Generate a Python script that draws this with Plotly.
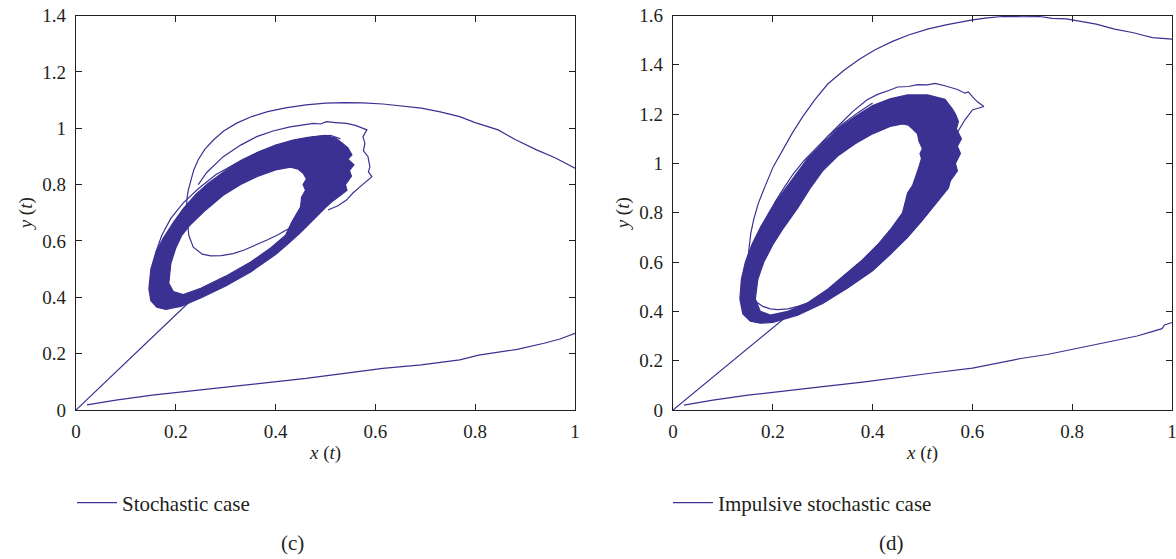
import plotly.graph_objects as go

COLOR = "#3a3192"
FONT = "Liberation Serif"
TXT = "#231f20"

# ---------------- (c) Stochastic case ----------------
c_low_x = [0.022, 0.08, 0.153, 0.23, 0.307, 0.38, 0.461, 0.538, 0.615, 0.692, 0.769, 0.807, 0.85, 0.884, 0.938, 0.97, 1.0]
c_low_y = [0.018, 0.035, 0.053, 0.068, 0.083, 0.097, 0.112, 0.13, 0.148, 0.16, 0.178, 0.195, 0.205, 0.215, 0.237, 0.252, 0.272]

c_ray_x = [0.0, 0.228]
c_ray_y = [0.0, 0.385]

c_arc_x = [1.0, 0.96, 0.923, 0.88, 0.846, 0.8, 0.769, 0.73, 0.692, 0.65, 0.615, 0.575, 0.538, 0.5, 0.461, 0.42, 0.384, 0.35, 0.322, 0.296, 0.276, 0.258, 0.245, 0.236, 0.23, 0.225, 0.222, 0.222,
           0.226, 0.235, 0.253, 0.27, 0.291, 0.315, 0.337, 0.36, 0.384, 0.405, 0.422, 0.44, 0.453, 0.47]
c_arc_y = [0.858, 0.895, 0.923, 0.96, 0.994, 1.02, 1.041, 1.058, 1.071, 1.08, 1.086, 1.09, 1.091, 1.089, 1.083, 1.072, 1.059, 1.04, 1.018, 0.99, 0.959, 0.925, 0.888, 0.852, 0.817, 0.78, 0.746, 0.69,
           0.62, 0.578, 0.553, 0.547, 0.548, 0.555, 0.568, 0.585, 0.604, 0.622, 0.64, 0.655, 0.675, 0.70]

c_outer_loop_x = [0.245, 0.262, 0.295, 0.33, 0.362, 0.395, 0.429, 0.45, 0.476, 0.49, 0.502, 0.52, 0.542, 0.56, 0.583, 0.575, 0.579, 0.576, 0.585, 0.589, 0.586, 0.593, 0.58, 0.569, 0.555, 0.542, 0.525, 0.505]
c_outer_loop_y = [0.80, 0.843, 0.899, 0.94, 0.97, 0.99, 1.005, 1.01, 1.017, 1.015, 1.023, 1.02, 1.017, 1.01, 0.994, 0.97, 0.946, 0.92, 0.9, 0.863, 0.845, 0.828, 0.81, 0.792, 0.77, 0.745, 0.725, 0.71]

c_extra_loop_x = [0.16, 0.172, 0.19, 0.215, 0.245, 0.28, 0.32, 0.36, 0.40, 0.44, 0.48, 0.51, 0.53]
c_extra_loop_y = [0.56, 0.62, 0.68, 0.735, 0.785, 0.835, 0.875, 0.91, 0.938, 0.958, 0.97, 0.975, 0.962]

c_band_outer_x = [0.146, 0.150, 0.160, 0.175, 0.195, 0.215, 0.240, 0.265, 0.30, 0.33, 0.365, 0.40, 0.435, 0.465, 0.50, 0.52, 0.535,
                  0.545, 0.553, 0.545, 0.557, 0.548, 0.552, 0.54, 0.543, 0.528, 0.515, 0.502, 0.49, 0.47, 0.45, 0.425, 0.40, 0.35, 0.30, 0.25, 0.21, 0.18, 0.162, 0.150, 0.146]
c_band_outer_y = [0.43, 0.50, 0.56, 0.61, 0.665, 0.715, 0.765, 0.805, 0.85, 0.885, 0.915, 0.94, 0.958, 0.968, 0.975, 0.965, 0.945,
                  0.93, 0.905, 0.89, 0.87, 0.85, 0.83, 0.80, 0.78, 0.76, 0.742, 0.722, 0.70, 0.665, 0.63, 0.59, 0.552, 0.49, 0.44, 0.398, 0.368, 0.357, 0.365, 0.388, 0.43]

c_band_inner_x = [0.186, 0.190, 0.200, 0.212, 0.228, 0.26, 0.295, 0.33, 0.365, 0.40, 0.43, 0.445, 0.455, 0.462, 0.455, 0.46, 0.452, 0.45, 0.44, 0.432, 0.42, 0.39, 0.35, 0.30, 0.25, 0.215, 0.195, 0.186]
c_band_inner_y = [0.45, 0.52, 0.575, 0.62, 0.655, 0.71, 0.762, 0.80, 0.83, 0.852, 0.862, 0.855, 0.84, 0.82, 0.80, 0.78, 0.755, 0.72, 0.69, 0.665, 0.62, 0.575, 0.525, 0.475, 0.432, 0.41, 0.42, 0.45]

# ---------------- (d) Impulsive stochastic case ----------------
d_low_x = [0.022, 0.08, 0.15, 0.22, 0.3, 0.38, 0.45, 0.52, 0.6, 0.65, 0.7, 0.75, 0.8, 0.85, 0.9, 0.93, 0.96, 0.98, 0.985, 1.0]
d_low_y = [0.02, 0.04, 0.06, 0.075, 0.095, 0.113, 0.13, 0.15, 0.17, 0.19, 0.21, 0.225, 0.245, 0.265, 0.285, 0.3, 0.318, 0.33, 0.345, 0.355]

d_ray_x = [0.0, 0.225]
d_ray_y = [0.0, 0.375]

d_arc_x = [1.0, 0.961, 0.94, 0.923, 0.885, 0.848, 0.82, 0.788, 0.76, 0.735, 0.7, 0.66, 0.63, 0.6, 0.547, 0.51, 0.472, 0.44, 0.405, 0.375, 0.344, 0.31, 0.284, 0.26, 0.239, 0.22, 0.201, 0.185, 0.171, 0.162, 0.156, 0.152, 0.149,
           0.150, 0.156, 0.166, 0.18, 0.195, 0.21, 0.23, 0.25, 0.275, 0.30, 0.325, 0.345, 0.36]
d_arc_y = [1.504, 1.51, 1.521, 1.53, 1.545, 1.565, 1.575, 1.586, 1.588, 1.596, 1.595, 1.596, 1.59, 1.582, 1.562, 1.545, 1.521, 1.495, 1.461, 1.425, 1.38, 1.322, 1.258, 1.19, 1.123, 1.055, 0.987, 0.91, 0.838, 0.775, 0.717, 0.65, 0.582,
           0.52, 0.47, 0.44, 0.42, 0.41, 0.407, 0.41, 0.42, 0.437, 0.457, 0.48, 0.50, 0.525]

d_outer_loop_x = [0.245, 0.265, 0.285, 0.31, 0.335, 0.36, 0.389, 0.41, 0.435, 0.45, 0.472, 0.49, 0.51, 0.525, 0.545, 0.555, 0.57, 0.585, 0.592, 0.6, 0.61, 0.623, 0.61, 0.6, 0.592, 0.585, 0.577, 0.568]
d_outer_loop_y = [0.95, 1.0, 1.05, 1.11, 1.16, 1.21, 1.258, 1.28, 1.298, 1.31, 1.312, 1.32, 1.319, 1.325, 1.315, 1.309, 1.3, 1.285, 1.29, 1.271, 1.25, 1.231, 1.222, 1.217, 1.195, 1.177, 1.15, 1.12]

d_extra_loop_x = [0.15, 0.16, 0.175, 0.19, 0.205, 0.222, 0.24, 0.262, 0.285, 0.31, 0.34, 0.37, 0.40]
d_extra_loop_y = [0.60, 0.66, 0.73, 0.79, 0.845, 0.90, 0.955, 1.01, 1.06, 1.11, 1.16, 1.205, 1.245]

d_band_outer_x = [0.134, 0.137, 0.145, 0.158, 0.175, 0.195, 0.215, 0.24, 0.27, 0.30, 0.33, 0.365, 0.40, 0.435, 0.47, 0.51, 0.545, 0.56,
                  0.566, 0.572, 0.568, 0.578, 0.57, 0.576, 0.566, 0.57, 0.556, 0.552, 0.54, 0.525, 0.50, 0.47, 0.435, 0.40, 0.35, 0.30, 0.25, 0.20, 0.175, 0.155, 0.14, 0.134]
d_band_outer_y = [0.45, 0.53, 0.60, 0.67, 0.74, 0.81, 0.87, 0.94, 1.02, 1.08, 1.14, 1.19, 1.235, 1.262, 1.278, 1.278, 1.26, 1.22,
                  1.2, 1.17, 1.14, 1.10, 1.07, 1.04, 1.0, 0.97, 0.93, 0.90, 0.87, 0.83, 0.77, 0.70, 0.63, 0.565, 0.495, 0.432, 0.385, 0.355, 0.352, 0.36, 0.39, 0.45]

d_band_inner_x = [0.165, 0.17, 0.182, 0.2, 0.222, 0.25, 0.275, 0.30, 0.33, 0.365, 0.40, 0.435, 0.46, 0.472, 0.48, 0.49, 0.493, 0.50, 0.495, 0.498, 0.492, 0.487, 0.48, 0.47, 0.46, 0.435, 0.41, 0.38, 0.345, 0.31, 0.27, 0.23, 0.195, 0.175, 0.165]
d_band_inner_y = [0.45, 0.53, 0.60, 0.67, 0.74, 0.82, 0.90, 0.97, 1.03, 1.08, 1.12, 1.15, 1.16, 1.155, 1.14, 1.12, 1.09, 1.06, 1.04, 1.02, 0.98, 0.95, 0.91, 0.88, 0.80, 0.73, 0.67, 0.61, 0.55, 0.49, 0.435, 0.40, 0.385, 0.40, 0.45]

fig = go.Figure()


def add_panel(xa, ya, low_x, low_y, ray_x, ray_y, arc_x, arc_y, loop_x, loop_y, ex_x, ex_y,
              bo_x, bo_y, bi_x, bi_y, name, legend):
    # dense band (filled ring between outer and inner envelope of the trajectory)
    fig.add_trace(go.Scatter(x=bo_x + bi_x[::-1], y=bo_y + bi_y[::-1], mode="lines",
                             fill="toself", fillcolor=COLOR, line=dict(width=0, color=COLOR),
                             xaxis=xa, yaxis=ya, showlegend=False, hoverinfo="skip"))
    for xs, ys in [(bo_x, bo_y), (bi_x, bi_y), (low_x, low_y), (ray_x, ray_y),
                   (loop_x, loop_y), (ex_x, ex_y)]:
        fig.add_trace(go.Scatter(x=xs, y=ys, mode="lines", line=dict(width=1.2, color=COLOR),
                                 xaxis=xa, yaxis=ya, showlegend=False, hoverinfo="skip"))
    fig.add_trace(go.Scatter(x=arc_x, y=arc_y, mode="lines", line=dict(width=1.2, color=COLOR),
                             xaxis=xa, yaxis=ya, name=name, legend=legend, showlegend=True))


add_panel("x", "y", c_low_x, c_low_y, c_ray_x, c_ray_y, c_arc_x, c_arc_y, c_outer_loop_x, c_outer_loop_y,
          c_extra_loop_x, c_extra_loop_y,
          c_band_outer_x, c_band_outer_y, c_band_inner_x, c_band_inner_y, "Stochastic case", "legend")
add_panel("x2", "y2", d_low_x, d_low_y, d_ray_x, d_ray_y, d_arc_x, d_arc_y, d_outer_loop_x, d_outer_loop_y,
          d_extra_loop_x, d_extra_loop_y,
          d_band_outer_x, d_band_outer_y, d_band_inner_x, d_band_inner_y, "Impulsive stochastic case", "legend2")

W, H = 1176, 559
ydom = [1 - 410 / H, 1 - 15.5 / H]
axis_common = dict(showline=True, linecolor=TXT, linewidth=1.2, mirror="ticks",
                   ticks="inside", ticklen=6, tickcolor=TXT, showgrid=False, zeroline=False,
                   automargin=False, ticklabeloverflow="allow",
                   tickfont=dict(family=FONT, size=19, color=TXT))

xticks = [0, 0.2, 0.4, 0.6, 0.8, 1.0]
xticktext = ["0", "0.2", "0.4", "0.6", "0.8", "1"]
yticks_c = [0, 0.2, 0.4, 0.6, 0.8, 1.0, 1.2, 1.4]
yticktext_c = ["0", "0.2", "0.4", "0.6", "0.8", "1", "1.2", "1.4"]
yticks_d = [0, 0.2, 0.4, 0.6, 0.8, 1.0, 1.2, 1.4, 1.6]
yticktext_d = ["0", "0.2", "0.4", "0.6", "0.8", "1", "1.2", "1.4", "1.6"]

xtitle = dict(text="<i>x</i> (<i>t</i>)", font=dict(family=FONT, size=19, color=TXT), standoff=4)
ytitle = dict(text="<i>y</i> (<i>t</i>)", font=dict(family=FONT, size=19, color=TXT), standoff=4)

fig.update_layout(
    width=W, height=H, margin=dict(l=0, r=0, t=0, b=0, autoexpand=False),
    paper_bgcolor="white", plot_bgcolor="white",
    xaxis=dict(domain=[76 / W, 575 / W], range=[0, 1], tickvals=xticks, ticktext=xticktext,
               title=xtitle, anchor="y", ticklabelstandoff=4, **axis_common),
    yaxis=dict(domain=ydom, range=[0, 1.4], tickvals=yticks_c, ticktext=yticktext_c,
               title=ytitle, anchor="x", ticklabelstandoff=5, **axis_common),
    xaxis2=dict(domain=[673 / W, 1172 / W], range=[0, 1], tickvals=xticks, ticktext=xticktext,
                title=xtitle, anchor="y2", ticklabelstandoff=4, **axis_common),
    yaxis2=dict(domain=ydom, range=[0, 1.6], tickvals=yticks_d, ticktext=yticktext_d,
                title=ytitle, anchor="x2", ticklabelstandoff=5, **axis_common),
    legend=dict(x=72 / W, y=1 - 503 / H, xanchor="left", yanchor="middle", itemwidth=40,
                font=dict(family=FONT, size=21, color=TXT), bgcolor="rgba(0,0,0,0)"),
    legend2=dict(x=668 / W, y=1 - 503 / H, xanchor="left", yanchor="middle", itemwidth=40,
                 font=dict(family=FONT, size=21, color=TXT), bgcolor="rgba(0,0,0,0)"),
    annotations=[
        dict(text="(c)", x=292 / W, y=1 - 543 / H, xref="paper", yref="paper",
             xanchor="center", yanchor="middle",
             showarrow=False, font=dict(family=FONT, size=21, color=TXT)),
        dict(text="(d)", x=891 / W, y=1 - 543 / H, xref="paper", yref="paper",
             xanchor="center", yanchor="middle",
             showarrow=False, font=dict(family=FONT, size=21, color=TXT)),
    ],
)

fig.write_html("out.html")
